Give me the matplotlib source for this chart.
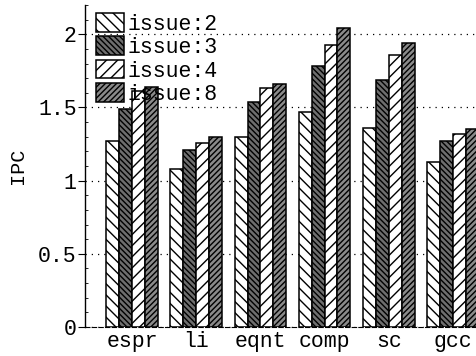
import numpy as np
import matplotlib
matplotlib.use("Agg")
import matplotlib.pyplot as plt
from matplotlib.ticker import MultipleLocator

benchmarks = ["espr", "li", "eqnt", "comp", "sc", "gcc"]
series_names = ["issue:2", "issue:3", "issue:4", "issue:8"]
issue_2 = [1.27, 1.08, 1.30, 1.47, 1.36, 1.13]
issue_3 = [1.49, 1.21, 1.54, 1.78, 1.69, 1.27]
issue_4 = [1.61, 1.26, 1.63, 1.93, 1.86, 1.32]
issue_8 = [1.64, 1.30, 1.66, 2.04, 1.94, 1.35]
series = [issue_2, issue_3, issue_4, issue_8]

# motifs noir et blanc comme sur la figure d'origine
styles = [
    dict(facecolor="white", hatch="\\\\\\"),
    dict(facecolor="#6e6e6e", hatch="\\\\\\\\\\\\"),
    dict(facecolor="white", hatch="///"),
    dict(facecolor="#8a8a8a", hatch="//////"),
]

plt.rcParams["font.family"] = ["Liberation Mono", "DejaVu Sans Mono"]
plt.rcParams["hatch.linewidth"] = 1.0
plt.rcParams["hatch.color"] = "black"

fig = plt.figure(figsize=(4.76, 3.56), dpi=100)
ax = fig.add_axes([0.1786, 0.0815, 0.83, 0.9045])

x = np.arange(len(benchmarks))
width = 0.2
for i, (name, vals) in enumerate(zip(series_names, series)):
    ax.bar(x + (i - 1.5) * width, vals, width, label=name,
           edgecolor="black", linewidth=1.1, zorder=3, **styles[i])

ax.set_xlim(-0.73, 5.42)
ax.set_ylim(0, 2.2)
ax.set_xticks(x)
ax.set_xticklabels(benchmarks, fontsize=15.5)
ax.set_yticks([0, 0.5, 1, 1.5, 2])
ax.set_yticklabels(["0", "0.5", "1", "1.5", "2"], fontsize=15.5)
ax.yaxis.set_minor_locator(MultipleLocator(0.1))
ax.tick_params(axis="x", length=0, pad=3)
ax.tick_params(axis="y", which="major", length=5, width=0.8, pad=1, direction="out")
ax.tick_params(axis="y", which="minor", length=2, width=0.6, direction="in")

ax.yaxis.grid(True, linestyle=(0, (1, 4)), color="black", linewidth=0.9, zorder=0)
ax.set_axisbelow(True)
for side in ["top", "right"]:
    ax.spines[side].set_visible(False)
ax.spines["bottom"].set_linestyle((0, (4, 2)))
ax.spines["bottom"].set_linewidth(0.8)
ax.spines["left"].set_linewidth(1.0)

ax.set_ylabel("IPC", fontsize=14.5, labelpad=8)

ax.legend(loc="upper left", bbox_to_anchor=(-0.005, 1.015), frameon=False,
          fontsize=15.5, handlelength=1.3, handleheight=0.95,
          handletextpad=0.15, labelspacing=0.08, borderaxespad=0.2)

fig.savefig("out.png", dpi=100)
